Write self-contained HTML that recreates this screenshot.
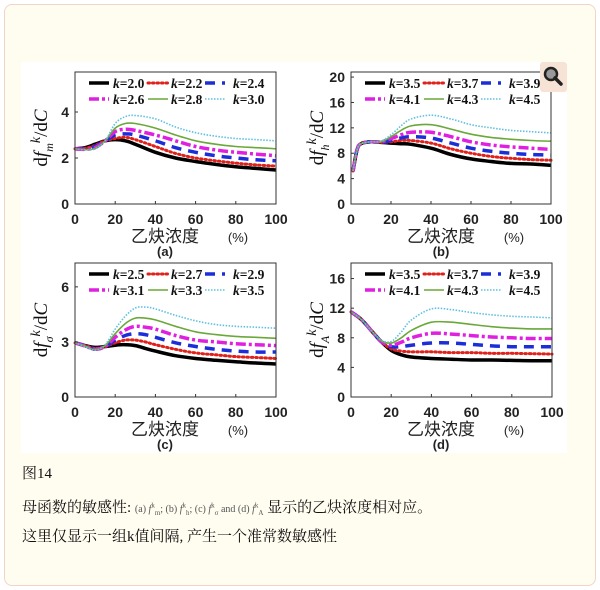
<!DOCTYPE html>
<html><head><meta charset="utf-8">
<style>
body{margin:0;width:600px;height:590px;background:#fff;position:relative;overflow:hidden;font-family:"Liberation Serif","Noto Serif CJK SC",serif;}
#outer{position:absolute;left:4px;top:4px;width:590px;height:580px;border:1.5px solid #f2d4c8;border-radius:8px;background:#fffcf0;}
#img{position:absolute;left:21px;top:62px;width:546px;height:391px;background:#fff;}
svg{position:absolute;left:0;top:0;}
.cap{position:absolute;left:22px;font-size:15px;color:#111;font-family:"Liberation Serif","Noto Serif CJK SC",serif;line-height:18px;}
.sm{font-size:10px;color:#555;}
.sm sup,.sm sub{font-size:7px;line-height:0;}
</style></head><body>
<div id="outer"></div>
<div id="img"></div>
<svg id="chart" width="600" height="590"></svg>
<div class="cap" style="top:465px">图14</div>
<div class="cap" style="top:499px">母函数的敏感性: <span class="sm">(a) <i>f</i><sup>k</sup><sub>m</sub>; (b) <i>f</i><sup>k</sup><sub>h</sub>; (c) <i>f</i><sup>k</sup><sub>σ</sub> and (d) <i>f</i><sup>k</sup><sub>A</sub></span> 显示的乙炔浓度相对应。</div>
<div class="cap" style="top:528px">这里仅显示一组k值间隔, 产生一个准常数敏感性</div>
<script>
const xA=[0,5,10,15,20,25,30,40,50,60,70,80,90,100];
const kA=["2.0","2.2","2.4","2.6","2.8","3.0"];
const a1=[2.4,2.45,2.6,2.75,2.8,2.75,2.6,2.25,2.0,1.85,1.72,1.62,1.55,1.48];
const a2=[2.4,2.42,2.55,2.75,2.85,2.9,2.8,2.5,2.2,2.0,1.88,1.78,1.7,1.65];
const a3=[2.4,2.4,2.5,2.75,3.0,3.05,3.0,2.75,2.45,2.25,2.1,2.0,1.92,1.88];
const a4=[2.4,2.38,2.45,2.75,3.15,3.25,3.2,3.0,2.75,2.5,2.35,2.25,2.17,2.1];
const a5=[2.4,2.36,2.42,2.75,3.3,3.5,3.5,3.3,3.0,2.75,2.6,2.5,2.45,2.4];
const a6=[2.4,2.35,2.4,2.75,3.5,3.8,3.85,3.7,3.35,3.1,2.95,2.85,2.8,2.75];
const xB=[1,3,5,10,15,20,25,30,40,50,60,70,80,90,100];
const kB=["3.5","3.7","3.9","4.1","4.3","4.5"];
const b1=[5.2,8.5,9.5,9.8,9.7,9.6,9.5,9.4,8.8,7.8,7.1,6.7,6.4,6.3,6.1];
const b2=[5.2,8.5,9.5,9.8,9.7,9.8,10.0,10.0,9.6,8.7,8.0,7.5,7.2,7.0,6.9];
const b3=[5.2,8.5,9.5,9.8,9.7,10.0,10.4,10.6,10.4,9.6,8.8,8.3,8.0,7.8,7.7];
const b4=[5.2,8.5,9.5,9.8,9.8,10.3,10.9,11.3,11.3,10.6,9.8,9.3,9.0,8.8,8.6];
const b5=[5.2,8.5,9.5,9.8,9.8,10.6,11.6,12.3,12.5,11.8,11.0,10.5,10.2,10.0,9.9];
const b6=[5.2,8.5,9.5,9.8,9.9,10.9,12.3,13.4,14.0,13.4,12.5,12.0,11.6,11.4,11.2];
const xC=[0,5,10,15,20,25,30,35,40,50,60,70,80,90,100];
const kC=["2.5","2.7","2.9","3.1","3.3","3.5"];
const c1=[2.95,2.8,2.7,2.75,2.82,2.85,2.8,2.65,2.5,2.25,2.1,2.0,1.92,1.85,1.8];
const c2=[2.95,2.8,2.65,2.75,2.95,3.1,3.1,3.0,2.85,2.6,2.4,2.3,2.2,2.15,2.1];
const c3=[2.95,2.8,2.6,2.75,3.1,3.35,3.45,3.4,3.25,2.95,2.75,2.6,2.5,2.45,2.45];
const c4=[2.95,2.78,2.6,2.75,3.25,3.65,3.85,3.8,3.7,3.35,3.1,3.0,2.9,2.85,2.8];
const c5=[2.95,2.78,2.58,2.8,3.45,4.0,4.3,4.3,4.2,3.85,3.55,3.4,3.3,3.25,3.2];
const c6=[2.95,2.75,2.55,2.85,3.7,4.4,4.85,4.9,4.8,4.45,4.15,3.95,3.85,3.8,3.75];
const xD=[0,5,10,15,20,25,30,40,50,60,70,80,90,100];
const kD=["3.5","3.7","3.9","4.1","4.3","4.5"];
const d1=[11.5,10.5,9.0,7.5,6.3,5.7,5.4,5.2,5.1,5.0,5.0,4.95,4.9,4.9];
const d2=[11.5,10.5,9.0,7.5,6.5,6.2,6.1,6.1,6.0,6.0,5.9,5.9,5.85,5.8];
const d3=[11.5,10.5,9.0,7.5,6.8,6.8,7.0,7.3,7.3,7.1,6.9,6.8,6.8,6.8];
const d4=[11.5,10.5,9.0,7.5,7.0,7.4,8.0,8.6,8.5,8.3,8.1,8.0,7.9,7.9];
const d5=[11.5,10.5,9.0,7.6,7.3,8.0,9.0,10.1,10.1,9.8,9.5,9.3,9.2,9.2];
const d6=[11.5,10.5,9.0,7.7,7.5,8.8,10.4,11.9,11.8,11.4,11.1,10.9,10.8,10.7];
const xTicks=[0,20,40,60,80,100];
const yTicksA=[0,2,4], yTicksB=[0,4,8,12,16,20], yTicksC=[0,3,6], yTicksD=[0,4,8,12,16];

const NS="http://www.w3.org/2000/svg";
const svg=document.getElementById('chart');
function mk(tag,attrs,parent){const e=document.createElementNS(NS,tag);for(const k in attrs)e.setAttribute(k,attrs[k]);(parent||svg).appendChild(e);return e;}
const styles=[
 {stroke:"#000",w:3.5,dash:null,cap:"butt"},
 {stroke:"#e0201a",w:3,dash:"1.5,3",cap:"round"},
 {stroke:"#1c2ed8",w:3.5,dash:"10,7",cap:"butt"},
 {stroke:"#e020e0",w:3.5,dash:"10,3,3,3",cap:"butt"},
 {stroke:"#6aa83a",w:1.6,dash:null,cap:"butt"},
 {stroke:"#5ec0e0",w:1.6,dash:"1.5,1.5",cap:"butt"}];
function smooth(pts){let d="M"+pts[0][0]+","+pts[0][1];for(let i=0;i<pts.length-1;i++){const p0=pts[Math.max(0,i-1)],p1=pts[i],p2=pts[i+1],p3=pts[Math.min(pts.length-1,i+2)];
 const c1x=p1[0]+(p2[0]-p0[0])/6,c1y=p1[1]+(p2[1]-p0[1])/6,c2x=p2[0]-(p3[0]-p1[0])/6,c2y=p2[1]-(p3[1]-p1[1])/6;
 d+=" C"+c1x.toFixed(1)+","+c1y.toFixed(1)+" "+c2x.toFixed(1)+","+c2y.toFixed(1)+" "+p2[0].toFixed(1)+","+p2[1].toFixed(1);}return d;}
function panel(o){
 const g=mk('g',{});
 
 
 const sx=v=>o.L+(v/100)*(o.R-o.L);
 const sy=v=>o.B-(v/o.ymax)*(o.B-o.T);
 o.series.forEach((s,i)=>{const st=styles[i];
  const p=mk('path',{d:smooth(o.xs.map((x,j)=>[sx(x),sy(s[j])])),fill:"none",stroke:st.stroke,"stroke-width":st.w,"stroke-linecap":st.cap},g);
  if(st.dash)p.setAttribute('stroke-dasharray',st.dash);
  
  });
 const r=mk('rect',{x:o.L,y:o.T,width:o.R-o.L,height:o.B-o.T,fill:"none",stroke:"#333","stroke-width":1},g);
 
 
 xTicks.forEach(t=>{mk('line',{x1:sx(t),x2:sx(t),y1:o.B,y2:o.B-3,stroke:"#333"},g);
  const tx=mk('text',{x:sx(t),y:o.B+20,"text-anchor":"middle","font-family":"Liberation Sans,sans-serif","font-weight":"bold","font-size":14,fill:"#222"},g);tx.textContent=t;
  
  });
 o.yt.forEach(t=>{mk('line',{x1:o.L,x2:o.L+3,y1:sy(t),y2:sy(t),stroke:"#333"},g);
  const tx=mk('text',{x:o.L-6,y:sy(t)+5,"text-anchor":"end","font-family":"Liberation Sans,sans-serif","font-weight":"bold","font-size":14,fill:"#222"},g);tx.textContent=t;
  
  });
 const lx=[[14,34,38],[73,93,96],[130,150,158]];
 o.keys.forEach((k,i)=>{const row=Math.floor(i/3),col=i%3,y=o.T+11+row*16,st=styles[i];
  const ln=mk('line',{x1:o.L+lx[col][0],x2:o.L+lx[col][1],y1:y,y2:y,stroke:st.stroke,"stroke-width":st.w,"stroke-linecap":st.cap},g);
  if(st.dash)ln.setAttribute('stroke-dasharray',st.dash);
  
  
  const tx=mk('text',{x:o.L+lx[col][2],y:y+5,"font-family":"Liberation Serif,serif","font-weight":"bold","font-size":13.5,fill:"#111"},g);
  tx.innerHTML='<tspan font-style="italic">k</tspan>='+k;
  
  });
 const yl=mk('text',{transform:`translate(${o.L-28},${(o.T+o.B)/2}) rotate(-90)`,"text-anchor":"middle","font-family":"Liberation Serif,serif","font-size":19,fill:"#111"},g);
 yl.innerHTML='d<tspan font-style="italic">f</tspan><tspan font-style="italic" font-size="12" dy="6">'+o.sub+'</tspan><tspan font-style="italic" font-size="14" dy="-13">k</tspan><tspan dy="7">/d</tspan><tspan font-style="italic">C</tspan>';
 
 
 const xl=mk('text',{x:o.L+90,y:o.B+38,"text-anchor":"middle","font-family":"Noto Sans CJK SC,sans-serif","font-size":17,fill:"#222"},g);xl.textContent="乙炔浓度";
 
 
 const pu=mk('text',{x:o.L+163,y:o.B+38,"text-anchor":"middle","font-family":"Liberation Sans,sans-serif","font-size":13,fill:"#222"},g);pu.textContent="(%)";
 
 
 const pl=mk('text',{x:o.L+90,y:o.B+52,"text-anchor":"middle","font-family":"Liberation Sans,sans-serif","font-weight":"bold","font-size":13,fill:"#222"},g);pl.textContent="("+o.id+")";
 
 
}
panel({id:"a",L:75,R:276,T:72,B:204,ymax:5.74,yt:yTicksA,xs:xA,keys:kA,series:[a1,a2,a3,a4,a5,a6],sub:"m"});
panel({id:"b",L:351,R:551,T:72,B:204,ymax:20.8,yt:yTicksB,xs:xB,keys:kB,series:[b1,b2,b3,b4,b5,b6],sub:"h"});
panel({id:"c",L:75,R:276,T:263,B:397,ymax:7.3,yt:yTicksC,xs:xC,keys:kC,series:[c1,c2,c3,c4,c5,c6],sub:"σ"});
panel({id:"d",L:351,R:552,T:263,B:397,ymax:18.1,yt:yTicksD,xs:xD,keys:kD,series:[d1,d2,d3,d4,d5,d6],sub:"A"});
const mg=mk('g',{});


mk('rect',{x:540,y:62,width:27,height:30,fill:"#f7e2d6",rx:3},mg);
mk('circle',{cx:551,cy:74,r:6,fill:"#999",stroke:"#222","stroke-width":2.5},mg);
mk('line',{x1:555,y1:78,x2:561,y2:84,stroke:"#222","stroke-width":3.5,"stroke-linecap":"round"},mg);
</script>
</body></html>
